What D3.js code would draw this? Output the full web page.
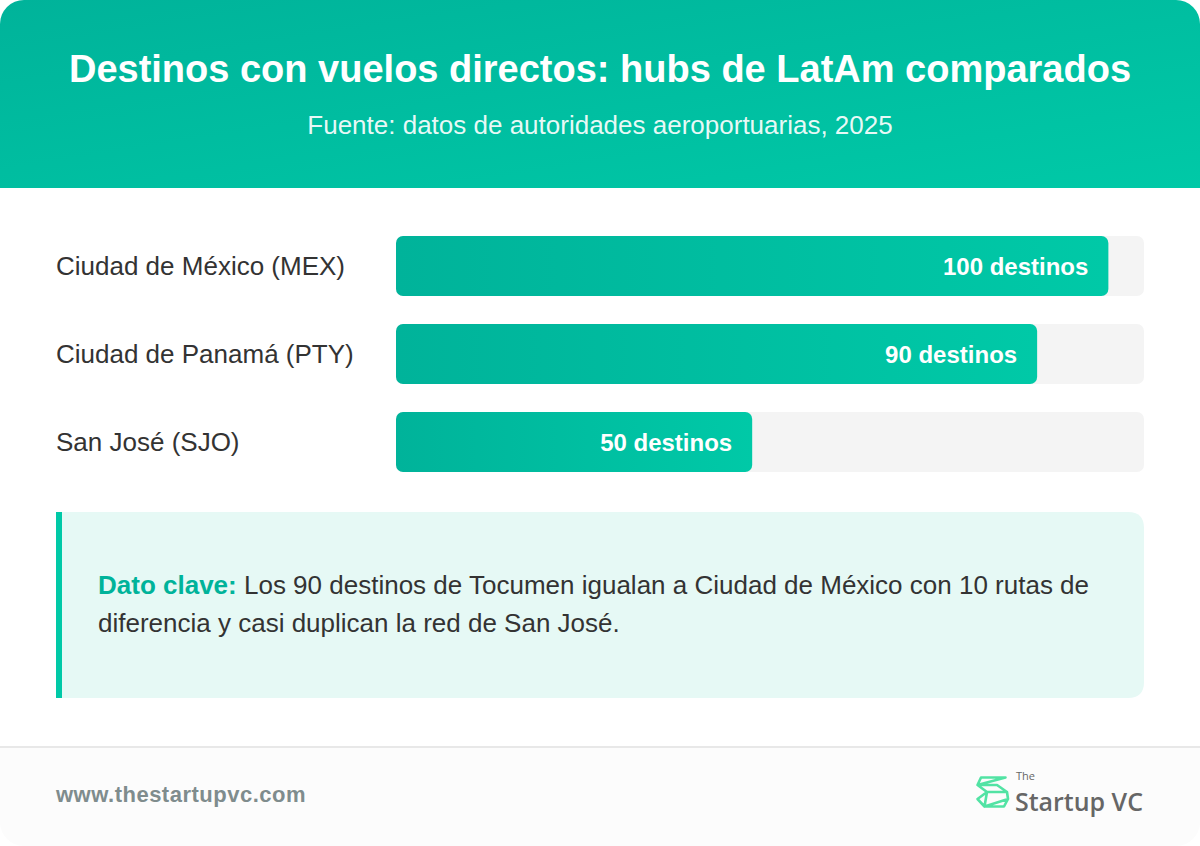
<!DOCTYPE html>
<html>
<head>
<meta charset="utf-8">
<script src="https://cdn.jsdelivr.net/npm/d3@7"></script>
<style>
  html, body { margin: 0; padding: 0; background: #ffffff; }
  svg { display: block; }
</style>
</head>
<body>
<div id="chart"></div>
<script>
// ---- Data ----
const title = "Destinos con vuelos directos: hubs de LatAm comparados";
const subtitle = "Fuente: datos de autoridades aeroportuarias, 2025";
const categories = ["Ciudad de México (MEX)", "Ciudad de Panamá (PTY)", "San José (SJO)"];
const values = [100, 90, 50];
const valueSuffix = " destinos";
const calloutLead = "Dato clave:";
const calloutLines = [
  " Los 90 destinos de Tocumen igualan a Ciudad de México con 10 rutas de",
  "diferencia y casi duplican la red de San José."
];
const footerUrl = "www.thestartupvc.com";

// ---- Layout ----
const W = 1200, H = 846;
const font = "'Liberation Sans', Arial, Helvetica, sans-serif";

const svg = d3.select("#chart").append("svg")
  .attr("width", W).attr("height", H)
  .attr("viewBox", `0 0 ${W} ${H}`);

const defs = svg.append("defs");
const hg = defs.append("linearGradient").attr("id", "hdrGrad")
  .attr("x1", "0%").attr("y1", "0%").attr("x2", "100%").attr("y2", "100%");
hg.append("stop").attr("offset", "0%").attr("stop-color", "#00b39a");
hg.append("stop").attr("offset", "100%").attr("stop-color", "#00c9a7");

const bg = defs.append("linearGradient").attr("id", "barGrad")
  .attr("x1", "0%").attr("y1", "0%").attr("x2", "100%").attr("y2", "0%");
bg.append("stop").attr("offset", "0%").attr("stop-color", "#00b39a");
bg.append("stop").attr("offset", "100%").attr("stop-color", "#00c9a7");

defs.append("clipPath").attr("id", "cardClip")
  .append("rect").attr("x", 0).attr("y", 0).attr("width", W).attr("height", H).attr("rx", 24);

const card = svg.append("g").attr("clip-path", "url(#cardClip)");
card.append("rect").attr("width", W).attr("height", H).attr("fill", "#ffffff");

// Header
card.append("rect").attr("x", 0).attr("y", 0).attr("width", W).attr("height", 188)
  .attr("fill", "url(#hdrGrad)");
card.append("text").attr("x", W / 2).attr("y", 82)
  .attr("text-anchor", "middle").attr("font-family", font)
  .attr("font-weight", "bold").attr("font-size", 38).attr("fill", "#ffffff")
  .text(title);
card.append("text").attr("x", W / 2).attr("y", 134)
  .attr("text-anchor", "middle").attr("font-family", font)
  .attr("font-size", 26).attr("fill", "#ffffff").attr("fill-opacity", 0.92)
  .text(subtitle);

// Bars: step 88, bar height 60, gap 28
const x = d3.scaleLinear().domain([0, 105]).range([396, 1144]);
const yb = d3.scaleBand().domain(categories).range([236, 472]).paddingInner(28 / 88).paddingOuter(0);

const rows = card.append("g").selectAll("g").data(categories).join("g");

rows.append("rect")
  .attr("x", x(0)).attr("y", d => yb(d))
  .attr("width", x(105) - x(0)).attr("height", yb.bandwidth())
  .attr("rx", 7).attr("fill", "#f4f4f4");

rows.append("rect")
  .attr("x", x(0)).attr("y", d => yb(d))
  .attr("width", (d, i) => x(values[i]) - x(0)).attr("height", yb.bandwidth())
  .attr("rx", 7).attr("fill", "url(#barGrad)");

rows.append("text")
  .attr("x", 56).attr("y", d => yb(d) + yb.bandwidth() / 2 + 9)
  .attr("font-family", font).attr("font-size", 26).attr("fill", "#333333")
  .text(d => d);

rows.append("text")
  .attr("x", (d, i) => x(values[i]) - 20).attr("y", d => yb(d) + yb.bandwidth() / 2 + 8.5)
  .attr("text-anchor", "end")
  .attr("font-family", font).attr("font-weight", "bold").attr("font-size", 24).attr("fill", "#ffffff")
  .text((d, i) => values[i] + valueSuffix);

// Callout
const co = card.append("g");
co.append("path")
  .attr("d", (() => {
    const x0 = 56, y0 = 512, x1 = 1144, y1 = 698, r = 16;
    return `M${x0},${y0} H${x1 - r} Q${x1},${y0} ${x1},${y0 + r} V${y1 - r} Q${x1},${y1} ${x1 - r},${y1} H${x0} Z`;
  })())
  .attr("fill", "#e6f9f5");
co.append("rect").attr("x", 56).attr("y", 512).attr("width", 6).attr("height", 186).attr("fill", "#00c9a7");

const t1 = co.append("text").attr("x", 98).attr("y", 594)
  .attr("font-family", font).attr("font-size", 26).attr("fill", "#333333");
t1.append("tspan").attr("font-weight", "bold").attr("fill", "#00b39a").text(calloutLead);
t1.append("tspan").text(calloutLines[0]);
co.append("text").attr("x", 98).attr("y", 632)
  .attr("font-family", font).attr("font-size", 26).attr("fill", "#333333")
  .text(calloutLines[1]);

// Footer
card.append("rect").attr("x", 0).attr("y", 746).attr("width", W).attr("height", 100).attr("fill", "#fcfcfc");
card.append("rect").attr("x", 0).attr("y", 746).attr("width", W).attr("height", 2).attr("fill", "#e8e8e8");
card.append("text").attr("x", 56).attr("y", 802)
  .attr("font-family", font).attr("font-weight", "bold").attr("font-size", 22)
  .attr("letter-spacing", 0.5).attr("fill", "#7f8c8d")
  .text(footerUrl);

// Logo (stacked-triangle mark)
const logo = card.append("g");
logo.append("path")
  .attr("d", "M981,777.5 H1005.5 L977.5,785 Z M977.5,785 H997 L1007,792 H987 Z M987,792 L977.5,799 L984.5,806.5 Z M1007,792 L1008,799 L984.5,806.5 H1004 L1008,799")
  .attr("fill", "none").attr("stroke", "#52e3a4").attr("stroke-width", 2.6)
  .attr("stroke-linejoin", "round").attr("stroke-linecap", "round");
logo.append("text").attr("x", 1016).attr("y", 780)
  .attr("font-family", "'Open Sans', sans-serif").attr("font-size", 11).attr("fill", "#666666")
  .text("The");
logo.append("text").attr("x", 1015).attr("y", 811)
  .attr("font-family", "'Open Sans', sans-serif").attr("font-weight", 600).attr("font-size", 26)
  .attr("fill", "#666666").attr("textLength", 128).attr("lengthAdjust", "spacingAndGlyphs")
  .text("Startup VC");
</script>
</body>
</html>
